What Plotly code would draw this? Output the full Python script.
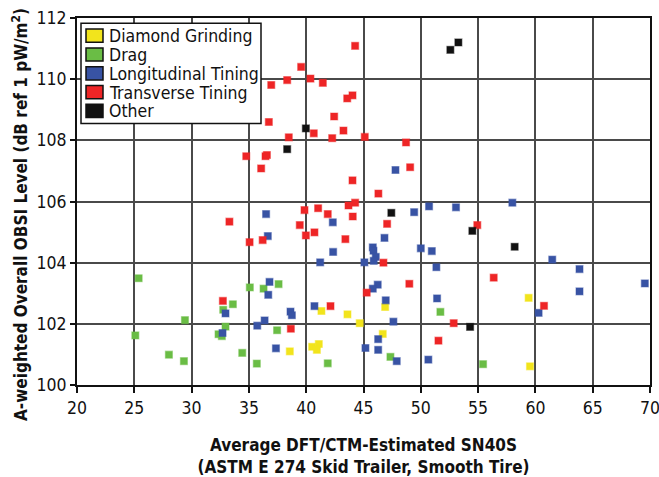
import plotly.graph_objects as go

# ---------------------------------------------------------------
# data: (SN40S, OBSI level)
# ---------------------------------------------------------------
dg_x = [46.89, 41.33, 43.6, 44.67, 46.68, 38.57, 40.52, 41.1, 40.93, 59.41, 59.53]
dg_y = [102.55, 102.42, 102.31, 102.02, 101.67, 101.1, 101.25, 101.34, 101.15, 102.85, 100.61]

drag_x = [25.38, 35.08, 36.28, 33.6, 32.76, 29.42, 32.96, 32.35, 32.64, 25.09,
          28.02, 29.33, 34.42, 35.69, 37.59, 51.71, 37.46, 47.35, 41.88, 55.43]
drag_y = [103.49, 103.19, 103.15, 102.64, 102.46, 102.12, 101.91, 101.66, 101.6, 101.62,
          100.99, 100.78, 101.05, 100.7, 103.3, 102.39, 101.79, 100.92, 100.71, 100.68]

lt_x = [36.5, 36.65, 36.8, 36.69, 32.96, 36.37, 35.73, 32.7, 47.79, 49.42,
        50.72, 53.07, 42.32, 46.83, 42.35, 45.81, 45.87, 46.07, 50.0, 50.96,
        41.22, 45.08, 45.89, 51.36, 46.24, 45.81, 46.94, 51.42, 40.72, 38.63,
        38.75, 47.61, 46.28, 37.36, 45.17, 46.28, 47.9, 50.66, 57.99, 61.47,
        63.85, 69.55, 63.85, 60.28]
lt_y = [105.59, 104.87, 103.37, 102.95, 102.34, 102.11, 101.94, 101.7, 107.03, 105.65,
        105.84, 105.81, 105.32, 104.81, 104.35, 104.5, 104.39, 104.19, 104.47, 104.38,
        104.01, 104.01, 104.06, 103.85, 103.28, 103.15, 102.77, 102.83, 102.58, 102.4,
        102.28, 102.07, 101.5, 101.2, 101.21, 101.15, 100.78, 100.83, 105.96, 104.1,
        103.79, 103.32, 103.06, 102.36]

tt_x = [44.27, 39.56, 36.95, 38.34, 40.37, 41.45, 44.04, 43.58, 36.74, 42.44,
        40.66, 43.25, 38.48, 42.27, 45.11, 48.71, 34.77, 36.45, 36.57, 36.07,
        49.07, 44.04, 46.3, 44.27, 43.69, 39.85, 41.04, 41.88, 44.06, 39.44,
        40.72, 39.97, 33.3, 35.06, 36.2, 47.06, 43.42, 46.74, 45.28, 49.0,
        42.12, 32.73, 52.87, 38.66, 51.54, 54.93, 56.36, 60.75]
tt_y = [111.09, 110.4, 109.81, 109.97, 110.02, 109.88, 109.47, 109.37, 108.6, 108.78,
        108.23, 108.32, 108.1, 108.07, 108.11, 107.93, 107.48, 107.48, 107.52, 107.08,
        107.12, 106.69, 106.26, 105.96, 105.87, 105.72, 105.78, 105.59, 105.51, 105.23,
        104.99, 104.89, 105.34, 104.67, 104.74, 105.27, 104.77, 104.0, 103.02, 103.31,
        102.58, 102.75, 102.02, 101.84, 101.45, 105.23, 103.51, 102.59]

oth_x = [52.58, 53.28, 39.97, 38.34, 47.43, 54.5, 58.19, 54.3]
oth_y = [110.96, 111.2, 108.39, 107.71, 105.63, 105.04, 104.52, 101.9]

series = [
    ("Diamond Grinding", dg_x, dg_y, "#f2e41c", "rgba(242,228,28,0.45)"),
    ("Drag", drag_x, drag_y, "#6abd45", "rgba(106,189,69,0.45)"),
    ("Longitudinal Tining", lt_x, lt_y, "#3853a4", "rgba(56,83,164,0.45)"),
    ("Transverse Tining", tt_x, tt_y, "#ee2526", "rgba(238,37,38,0.45)"),
    ("Other", oth_x, oth_y, "#111111", "rgba(17,17,17,0.45)"),
]

FONT = "DejaVu Sans Condensed, Roboto, sans-serif"

# plot area size in pixels
PW, PH = 573, 367


def px_x(p):
    return p / PW


def px_y(p):
    return 1 - p / PH


fig = go.Figure()

for name, xs, ys, col, edge in series:
    fig.add_trace(go.Scatter(
        x=xs, y=ys, mode="markers", name=name, showlegend=False,
        marker=dict(symbol="square", size=7, color=col,
                    line=dict(width=1.2, color=edge)),
        cliponaxis=False
    ))

# ---------------------------------------------------------------
# hand-made legend box (tighter rows than plotly's own legend)
# ---------------------------------------------------------------
shapes = [dict(type="rect", xref="paper", yref="paper",
               x0=px_x(4), x1=px_x(184), y0=px_y(105.5), y1=px_y(5.3),
               line=dict(color="#111111", width=1.5), fillcolor="white", layer="above")]
annotations = []
for i, (name, xs, ys, col, edge) in enumerate(series):
    cy = 17.7 + 18.8 * i
    shapes.append(dict(type="rect", xref="paper", yref="paper",
                       x0=px_x(9), x1=px_x(26), y0=px_y(cy + 6.6), y1=px_y(cy - 6.6),
                       line=dict(color="#111111", width=1.5), fillcolor=col, layer="above"))
    annotations.append(dict(text=name, xref="paper", yref="paper",
                            x=px_x(30), y=px_y(cy + 0.5), xanchor="left", yanchor="middle",
                            showarrow=False, font=dict(family=FONT, size=17.5, color="#111111")))

# y axis title as annotation so it can sit lower than the plot centre
annotations.append(dict(
    text="<b>A-weighted Overall OBSI Level (dB ref 1 pW/m<sup>2</sup>)</b>",
    xref="paper", yref="paper", x=px_x(-57), y=px_y(197),
    xanchor="center", yanchor="middle", textangle=-90, showarrow=False,
    font=dict(family=FONT, size=17, color="#111111")))

fig.update_layout(
    width=659, height=477,
    margin=dict(l=77, r=9, t=18, b=92),
    plot_bgcolor="white",
    paper_bgcolor="white",
    font=dict(family=FONT, size=16, color="#111111"),
    showlegend=False,
    shapes=shapes,
    annotations=annotations,
    xaxis=dict(
        range=[20, 70], dtick=5, tick0=20, automargin=False,
        ticklabeloverflow="allow",
        showgrid=True, gridcolor="#4a4a4a", gridwidth=1.5,
        showline=True, linecolor="#111111", linewidth=2, mirror=True,
        ticks="outside", ticklen=6, tickcolor="#111111", tickwidth=1.5,
        tickfont=dict(family=FONT, size=17.5),
        zeroline=False,
        title=dict(
            text="<b>Average DFT/CTM-Estimated SN40S<br>(ASTM E 274 Skid Trailer, Smooth Tire)</b>",
            font=dict(family=FONT, size=17), standoff=22,
        ),
    ),
    yaxis=dict(
        range=[100, 112], dtick=2, tick0=100, automargin=False,
        ticklabeloverflow="allow",
        showgrid=True, gridcolor="#4a4a4a", gridwidth=1.5,
        showline=True, linecolor="#111111", linewidth=2, mirror=True,
        ticks="outside", ticklen=5, tickcolor="#111111", tickwidth=1.5,
        tickfont=dict(family=FONT, size=17.5),
        zeroline=False,
    ),
)

# drop the browser's default body margin so the figure fills the window
fig.write_html("out.html", config={"displayModeBar": False},
               post_script="document.body.style.margin='0';")
